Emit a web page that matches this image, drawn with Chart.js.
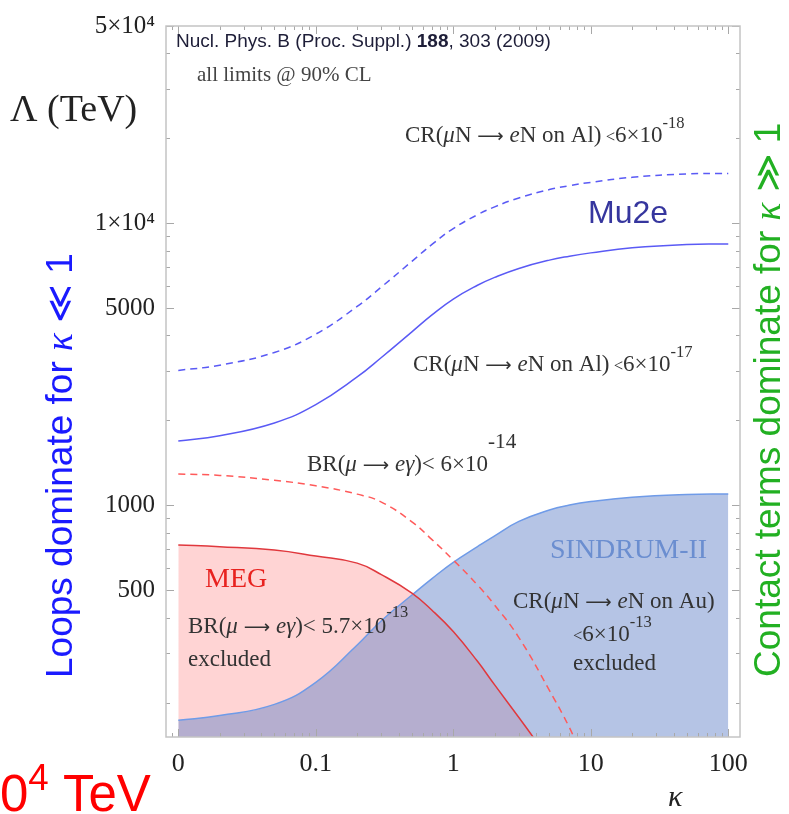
<!DOCTYPE html>
<html>
<head>
<meta charset="utf-8">
<script src="https://cdn.jsdelivr.net/npm/chart.js@4"></script>
<style>
  html, body { margin: 0; padding: 0; background: #fff; }
  canvas { display: block; }
</style>
</head>
<body>
<canvas id="limitPlot" width="789" height="814"></canvas>
<script>
// kappa grid (log x) and the Lambda limits in TeV
const kappa = [0.01, 0.02, 0.05, 0.1, 0.2, 0.3, 0.5, 0.7, 1, 1.5, 2, 3, 5, 7, 10, 20, 50, 100];
const mu2eAl17 = [1691, 1766, 1959, 2275, 2851, 3342, 4121, 4731, 5384, 6026, 6427, 6914, 7400, 7640, 7850, 8180, 8410, 8440];
const mu2eAl18 = [3007, 3140, 3483, 4045, 5069, 5942, 7327, 8412, 9573, 10715, 11427, 12293, 13157, 13584, 13957, 14544, 14953, 15006];
const sindrumAu = [173, 180, 197, 236, 320, 390, 481, 550, 628, 714, 780, 877, 963, 1002, 1031, 1069, 1093, 1098];

const kappaMegFuture = [0.01, 0.02, 0.05, 0.1, 0.2, 0.3, 0.5, 0.7, 1, 1.5, 2, 3, 5, 7, 8];
const megFuture = [1291, 1277, 1227, 1173, 1096, 1027, 874, 756, 640, 522, 443, 340, 221, 163, 140];

const kappaMeg = [0.01, 0.02, 0.05, 0.1, 0.2, 0.3, 0.5, 0.7, 1, 1.5, 2, 3, 4];
const megNow = [724, 714, 694, 661, 624, 568, 489, 425, 357, 280, 231, 177, 146];

const xTicks = [0.01, 0.1, 1, 10, 100];
const xTickLabels = ['0', '0.1', '1', '10', '100'];
const yTicks = [500, 1000, 5000, 10000, 50000];
const yTickLabels = ['500', '1000', '5000', '1×10⁴', '5×10⁴'];
const yMinor = [200, 300, 400, 600, 700, 800, 900, 2000, 3000, 4000, 6000, 7000, 8000, 9000, 20000, 30000, 40000];

const SERIF = '"Liberation Serif", "Times New Roman", serif';
const SANS = '"Liberation Sans", Arial, sans-serif';
const ARROW = '"DejaVu Sans", sans-serif';

function pts(xs, ys) {
    return xs.map((x, i) => ({ x: x, y: ys[i] }));
}

// draws a run of mixed text pieces: [text, kind] with kind n / i / b / s (small) / a (arrow) / sup
function drawRuns(ctx, x, y, runs, size, color, family, supRaise) {
    family = family || SERIF;
    ctx.fillStyle = color;
    ctx.textBaseline = 'alphabetic';
    ctx.textAlign = 'left';
    let cx = x;
    runs.forEach(r => {
        const t = r[0], k = r[1];
        let fs = size, dy = 0, style = '', fam = family;
        if (k === 'i') { style = 'italic '; fam = SERIF; }
        if (k === 'b') style = 'bold ';
        if (k === 's') fs = size * 0.72;
        if (k === 'a') { fs = size * 0.8; fam = ARROW; dy = -size * 0.02; }
        if (k === 'sup') { fs = size * 0.72; dy = -(supRaise || size * 0.48); }
        if (k === 'supbig') { fs = size * 0.92; dy = -(supRaise || size); }
        ctx.font = style + fs + 'px ' + fam;
        ctx.fillText(t, cx, y + dy);
        cx += ctx.measureText(t).width;
    });
}

const framePlugin = {
    id: 'frame',
    afterDatasetsDraw(chart) {
        const ctx = chart.ctx;
        const a = chart.chartArea;
        const xs = chart.scales.x, ys = chart.scales.y;
        ctx.save();
        ctx.strokeStyle = '#a8a8a8';
        ctx.lineWidth = 1;
        const xMinor = [];
        for (let d = 0.001; d <= 100; d *= 10) {
            for (let m = 2; m <= 9; m++) {
                const v = d * m;
                if (v > xs.min && v < xs.max) xMinor.push(v);
            }
        }
        const tickX = (v, len) => {
            const px = Math.round(xs.getPixelForValue(v)) + 0.5;
            ctx.beginPath();
            ctx.moveTo(px, a.bottom); ctx.lineTo(px, a.bottom - len);
            ctx.moveTo(px, a.top); ctx.lineTo(px, a.top + len);
            ctx.stroke();
        };
        const tickY = (v, len) => {
            const py = Math.round(ys.getPixelForValue(v)) + 0.5;
            ctx.beginPath();
            ctx.moveTo(a.left, py); ctx.lineTo(a.left + len, py);
            ctx.moveTo(a.right, py); ctx.lineTo(a.right - len, py);
            ctx.stroke();
        };
        xTicks.forEach(v => tickX(v, 8));
        xMinor.forEach(v => tickX(v, 4));
        yTicks.forEach(v => tickY(v, 8));
        yMinor.forEach(v => tickY(v, 4));
        ctx.strokeStyle = '#c4c4c4';
        ctx.lineWidth = 1.5;
        ctx.strokeRect(a.left, a.top, a.right - a.left, a.bottom - a.top);
        ctx.restore();
    }
};

const notesPlugin = {
    id: 'notes',
    afterDraw(chart) {
        const ctx = chart.ctx;
        ctx.save();
        const dark = '#333';

        drawRuns(ctx, 176, 47, [['Nucl. Phys. B (Proc. Suppl.) ', 'n'], ['188', 'b'], [', 303 (2009)', 'n']], 19, '#1e1e38', SANS);
        drawRuns(ctx, 197, 81, [['all limits @ 90% CL', 'n']], 21, '#444');
        drawRuns(ctx, 10, 121, [['Λ (TeV)', 'n']], 38, '#222');

        drawRuns(ctx, 405, 142, [['CR(', 'n'], ['μ', 'i'], ['N', 'n'], [' ⟶ ', 'a'], ['e', 'i'], ['N on Al)', 'n'], [' <', 's'], ['6×10', 'n'], ['-18', 'sup']], 23, dark, SERIF, 14);
        drawRuns(ctx, 588, 223, [['Mu2e', 'n']], 32, '#36369e', SANS);
        drawRuns(ctx, 413, 371, [['CR(', 'n'], ['μ', 'i'], ['N', 'n'], [' ⟶ ', 'a'], ['e', 'i'], ['N on Al)', 'n'], [' <', 's'], ['6×10', 'n'], ['-17', 'sup']], 23, dark, SERIF, 14);
        drawRuns(ctx, 307, 471, [['BR(', 'n'], ['μ', 'i'], [' ⟶ ', 'a'], ['eγ', 'i'], [')< 6×10', 'n'], ['-14', 'supbig']], 23, dark, SERIF, 23);

        drawRuns(ctx, 205, 587, [['MEG', 'n']], 28, '#e8221f');
        drawRuns(ctx, 188, 633, [['BR(', 'n'], ['μ', 'i'], [' ⟶ ', 'a'], ['eγ', 'i'], [')< 5.7×10', 'n'], ['-13', 'sup']], 23, dark, SERIF, 16);
        drawRuns(ctx, 188, 666, [['excluded', 'n']], 23, dark);

        drawRuns(ctx, 550, 558, [['SINDRUM-II', 'n']], 28, '#6b8ed0');
        drawRuns(ctx, 513, 608, [['CR(', 'n'], ['μ', 'i'], ['N', 'n'], [' ⟶ ', 'a'], ['e', 'i'], ['N on Au)', 'n']], 23, dark);
        drawRuns(ctx, 573, 641, [['<', 's'], ['6×10', 'n'], ['-13', 'sup']], 23, dark, SERIF, 14);
        drawRuns(ctx, 573, 670, [['excluded', 'n']], 23, dark);

        drawRuns(ctx, 668, 806, [['κ', 'i']], 30, '#222');

        // rotated side notes
        ctx.save();
        ctx.translate(72, 678);
        ctx.rotate(-Math.PI / 2);
        drawRuns(ctx, 0, 0, [['Loops dominate for ', 'n'], ['κ', 'i'], [' ≪ 1', 'n']], 37, '#1a1aff', SANS);
        ctx.restore();

        ctx.save();
        ctx.translate(780, 677);
        ctx.rotate(-Math.PI / 2);
        drawRuns(ctx, 0, 0, [['Contact terms dominate for ', 'n'], ['κ', 'i'], [' ≫ 1', 'n']], 37, '#22b022', SANS);
        ctx.restore();

        drawRuns(ctx, 0, 811, [['0', 'n'], ['4', 'sup'], [' TeV', 'n']], 51, '#ff0000', SANS, 21);
        ctx.restore();
    }
};

const lineBase = { pointRadius: 0, tension: 0.45 };

const ctx = document.getElementById('limitPlot').getContext('2d');
const chart = new Chart(ctx, {
    type: 'line',
    data: {
        datasets: [
            Object.assign({
                label: 'MEG excluded',
                data: pts(kappaMeg, megNow),
                fill: 'start',
                backgroundColor: 'rgba(255, 0, 0, 0.17)',
                borderWidth: 0,
                order: 6
            }, lineBase),
            Object.assign({
                label: 'SINDRUM-II excluded',
                data: pts(kappa, sindrumAu),
                fill: 'start',
                backgroundColor: 'rgba(100, 132, 200, 0.48)',
                borderColor: '#6f9be8',
                borderWidth: 1.5,
                order: 5
            }, lineBase),
            Object.assign({
                label: 'MEG BR < 5.7e-13',
                data: pts(kappaMeg, megNow),
                fill: false,
                borderColor: '#e0383d',
                borderWidth: 1.5,
                order: 4
            }, lineBase),
            Object.assign({
                label: 'BR < 6e-14',
                data: pts(kappaMegFuture, megFuture),
                fill: false,
                borderColor: '#ff5a5a',
                borderWidth: 1.5,
                borderDash: [7, 5],
                order: 3
            }, lineBase),
            Object.assign({
                label: 'Mu2e CR < 6e-17',
                data: pts(kappa, mu2eAl17),
                fill: false,
                borderColor: '#5a5af5',
                borderWidth: 1.5,
                order: 2
            }, lineBase),
            Object.assign({
                label: 'CR < 6e-18',
                data: pts(kappa, mu2eAl18),
                fill: false,
                borderColor: '#5a5af5',
                borderWidth: 1.5,
                borderDash: [7, 5],
                order: 1
            }, lineBase)
        ]
    },
    options: {
        responsive: false,
        animation: false,
        layout: {
            padding: { left: 0, top: 20, right: 49, bottom: 0 }
        },
        scales: {
            x: {
                type: 'logarithmic',
                min: 0.00814,
                max: 121.7,
                afterBuildTicks: s => { s.ticks = xTicks.map(v => ({ value: v })); },
                afterFit: s => { s.height = 77; },
                grid: { display: false, drawTicks: false },
                border: { display: false },
                ticks: {
                    autoSkip: false,
                    maxRotation: 0,
                    padding: 12,
                    color: '#222',
                    font: { family: SERIF, size: 26 },
                    callback: (v, i) => xTickLabels[i]
                }
            },
            y: {
                type: 'logarithmic',
                min: 151,
                max: 50000,
                afterBuildTicks: s => { s.ticks = yTicks.map(v => ({ value: v })); },
                afterFit: s => { s.width = 166; },
                grid: { display: false, drawTicks: false },
                border: { display: false },
                ticks: {
                    autoSkip: false,
                    padding: 11,
                    color: '#222',
                    font: { family: SERIF, size: 25 },
                    callback: (v, i) => yTickLabels[i]
                }
            }
        },
        plugins: {
            legend: { display: false },
            tooltip: { enabled: false }
        }
    },
    plugins: [framePlugin, notesPlugin]
});
</script>
</body>
</html>
